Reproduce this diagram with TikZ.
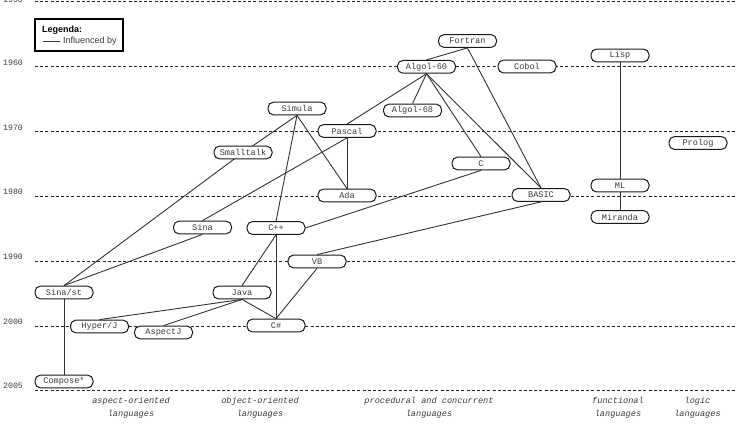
\documentclass[tikz,border=0pt]{standalone}
\usepackage{fontspec}
\setmainfont{Liberation Sans}
\setsansfont{Liberation Sans}
\setmonofont{Liberation Mono}
\usetikzlibrary{backgrounds}
\definecolor{edgec}{HTML}{333333}
\definecolor{txtc}{HTML}{3A3A3A}
\tikzset{
  lang/.style={draw=black!90, line width=1.0pt, fill=white, rounded corners=5.5pt,
    minimum width=58pt, minimum height=12.8pt, inner sep=0pt,
    font=\fontsize{8.6}{10}\selectfont\ttfamily, text=txtc},
  infl/.style={draw=edgec, line width=0.9pt},
  yearline/.style={draw=black!85, line width=0.9pt, dash pattern=on 3pt off 2.2pt},
  yearlab/.style={anchor=base west, inner sep=0pt, font=\fontsize{8.2}{10}\selectfont\ttfamily, text=txtc},
  catlab/.style={align=center, inner sep=0pt, font=\fontsize{8.6}{13}\selectfont\ttfamily\itshape, text=txtc},
}
\begin{document}
\begin{tikzpicture}[x=1pt,y=-1pt]
\useasboundingbox (0,0) rectangle (737,428);
% year grid
\foreach \yy/\lab in {66.5/1960,131.5/1970,196/1980,261/1990,326/2000,390/2005}{
  \draw[yearline] (35,\yy) -- (737,\yy);
  \node[yearlab] at (3,\yy-1.2) {\lab};
}
\draw[yearline] (35,1.5) -- (737,1.5);
\node[yearlab] (yfifty) at (3,3) {1950};
% legend
\node[draw=black, line width=1.2pt, minimum width=88pt, minimum height=32pt, inner sep=0pt, fill=white] (legend) at (79,35) {};
\node[anchor=base west, inner sep=0pt, font=\fontsize{9}{10}\selectfont\sffamily\bfseries] (legtitle) at (42,32.5) {Legenda:};
\coordinate (lega) at (43,41);
\coordinate (legb) at (60,41);
\draw[infl] (lega) -- (legb);
\node[anchor=west, inner sep=0pt, font=\fontsize{9}{10}\selectfont\sffamily, text=txtc] (legtext) at (63,41) {Influenced by};
% languages
\node[lang] (fortran) at (467.5,41) {Fortran};
\node[lang] (algolsixty) at (426.5,66.8) {Algol-60};
\node[lang] (cobol) at (527,66.5) {Cobol};
\node[lang] (algolsixtyeight) at (412.5,110.5) {Algol-68};
\node[lang] (lisp) at (620,55.5) {Lisp};
\node[lang] (simula) at (297,108.5) {Simula};
\node[lang] (pascal) at (347,131) {Pascal};
\node[lang] (smalltalk) at (243,152.5) {Smalltalk};
\node[lang] (prolog) at (698,143) {Prolog};
\node[lang] (clang) at (481,163.5) {C};
\node[lang] (ml) at (620,185.5) {ML};
\node[lang] (ada) at (347,195.5) {Ada};
\node[lang] (basic) at (541,195) {BASIC};
\node[lang] (miranda) at (620,217) {Miranda};
\node[lang] (sina) at (202.5,227.5) {Sina};
\node[lang] (cpp) at (276,228) {C++};
\node[lang] (vb) at (317,261.5) {VB};
\node[lang] (sinast) at (64,292.5) {Sina/st};
\node[lang] (java) at (242,292.5) {Java};
\node[lang] (hyperj) at (99.5,326.5) {Hyper/J};
\node[lang] (csharp) at (276,325.5) {C\#};
\node[lang] (aspectj) at (163.5,332.5) {AspectJ};
\node[lang] (compose) at (64,381.5) {Compose*};
% influences
\begin{scope}[on background layer]
\draw[infl] (fortran.south) -- (algolsixty.north);
\draw[infl] (fortran.south) -- (basic.north);
\draw[infl] (algolsixty.south) -- (algolsixtyeight.north);
\draw[infl] (algolsixty.south) -- (clang.north);
\draw[infl] (algolsixty.south) -- (basic.north);
\draw[infl] (algolsixty.south) -- (pascal.north);
\draw[infl] (simula.south) -- (smalltalk.center);
\draw[infl] (smalltalk.center) -- (sinast.north);
\draw[infl] (simula.south) -- (ada.north);
\draw[infl] (simula.south) -- (cpp.north);
\draw[infl] (pascal.south) -- (ada.north);
\draw[infl] (pascal.south) -- (sina.north);
\draw[infl] (sina.south) -- (sinast.north);
\draw[infl] (clang.south) -- (cpp.east);
\draw[infl] (basic.south) -- (vb.north);
\draw[infl] (cpp.south) -- (java.north);
\draw[infl] (cpp.south) -- (csharp.north);
\draw[infl] (vb.south) -- (csharp.north);
\draw[infl] (java.south) -- (csharp.north);
\draw[infl] (java.south) -- (hyperj.north);
\draw[infl] (java.south) -- (aspectj.north);
\draw[infl] (sinast.south) -- (compose.north);
\draw[infl] (lisp.south) -- (ml.north);
\draw[infl] (ml.south) -- (miranda.north);
\end{scope}
% categories
\node[catlab] (cataspect) at (131,407.5) {aspect-oriented\\languages};
\node[catlab] (catobject) at (260,407.5) {object-oriented\\languages};
\node[catlab] (catproc) at (429,407.5) {procedural and concurrent\\languages};
\node[catlab] (catfunc) at (618,407.5) {functional\\languages};
\node[catlab] (catlogic) at (697.5,407.5) {logic\\languages};
\end{tikzpicture}
\end{document}
